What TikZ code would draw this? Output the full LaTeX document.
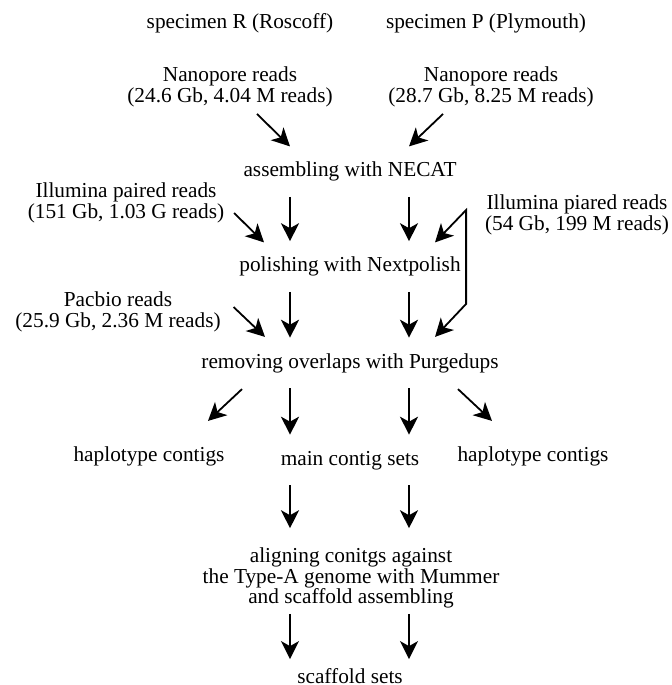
\documentclass[tikz,border=0pt]{standalone}
\usepackage{fontspec}
\setmainfont{Liberation Serif}
\usetikzlibrary{arrows.meta,calc,positioning}

\begin{document}
\begin{tikzpicture}[x=0.5pt,y=-0.5pt,
	txt/.style={font=\fontsize{10.65pt}{10.4pt}\selectfont,align=center,inner sep=0pt},
	stage/.style={txt,text height=7.2pt,text depth=2pt},
	down/.style={shorten <=7.6pt,shorten >=7.6pt},
	line width=0.9pt,->,>={Stealth[length=9pt,width=9pt,inset=2.5pt]}]

	\useasboundingbox (0,0) rectangle (671,685);
	\coordinate (colL) at (290,0);
	\coordinate (colR) at (409,0);

	\node[stage] (specR) at (240,23) {specimen R (Roscoff)};
	\node[stage] (specP) at (486,23) {specimen P (Plymouth)};
	\node[txt] (nanoR) at (230,87) {Nanopore reads\\(24.6 Gb, 4.04 M reads)};
	\node[txt] (nanoP) at (491,87) {Nanopore reads\\(28.7 Gb, 8.25 M reads)};

	\node[stage] (assem) at (350,171.5) {assembling with NECAT};
	\node[txt] (illR) at (126,203) {Illumina paired reads\\(151 Gb, 1.03 G reads)};
	\node[txt] (illP) at (577,215) {Illumina piared reads\\(54 Gb, 199 M reads)};
	\node[stage] (polish) at (350,266.5) {polishing with Nextpolish};
	\node[txt] (pacbio) at (118,312) {Pacbio reads\\(25.9 Gb, 2.36 M reads)};
	\node[stage] (remove) at (350,363) {removing overlaps with Purgedups};

	\node[stage] (haploL) at (149,456) {haplotype contigs};
	\node[stage] (main) at (350,460) {main contig sets};
	\node[stage] (haploR) at (533,456) {haplotype contigs};
	\node[txt] (align) at (351,578) {aligning conitgs against\\the Type-A genome with Mummer\\and scaffold assembling};
	\node[stage] (scaff) at (350,678) {scaffold sets};

	\draw ($(nanoR.south)+(27,6)$) -- ($(assem.north -| colL)+(0,-15)$);
	\draw ($(nanoP.south)+(-48,6)$) -- ($(assem.north -| colR)+(0,-15)$);

	\draw[down] (assem.south -| colL) -- (polish.north -| colL);
	\draw[down] (assem.south -| colR) -- (polish.north -| colR);
	\draw ($(illR.east)+(9,10)$) -- ($(polish.north -| colL)+(-26,-14)$);

	\coordinate (brkTop) at ($(illP.west)+(-18,-5)$);
	\coordinate (brkEnd) at ($(remove.north -| colR)+(26,-16)$);
	\draw[<->] ($(polish.north -| colR)+(26,-14)$) -- (brkTop) -- ($(brkTop |- brkEnd)+(0,-33)$) -- (brkEnd);

	\draw[down] (polish.south -| colL) -- (remove.north -| colL);
	\draw[down] (polish.south -| colR) -- (remove.north -| colR);
	\draw ($(pacbio.east)+(12,-5)$) -- ($(remove.north -| colL)+(-25,-16)$);

	\draw ($(remove.south -| colL)+(-48,16)$) -- ($(haploL.north)+(59,-25)$);
	\draw[down] (remove.south -| colL) -- (main.north -| colL);
	\draw[down] (remove.south -| colR) -- (main.north -| colR);
	\draw ($(remove.south -| colR)+(49,16)$) -- ($(haploR.north)+(-41,-25)$);

	\draw[down,shorten >=9.2pt] (main.south -| colL) -- (align.north -| colL);
	\draw[down,shorten >=9.2pt] (main.south -| colR) -- (align.north -| colR);

	\draw[down,shorten <=2.2pt,shorten >=4.4pt] (align.south -| colL) -- (scaff.north -| colL);
	\draw[down,shorten <=2.2pt,shorten >=4.4pt] (align.south -| colR) -- (scaff.north -| colR);

\end{tikzpicture}
\end{document}
